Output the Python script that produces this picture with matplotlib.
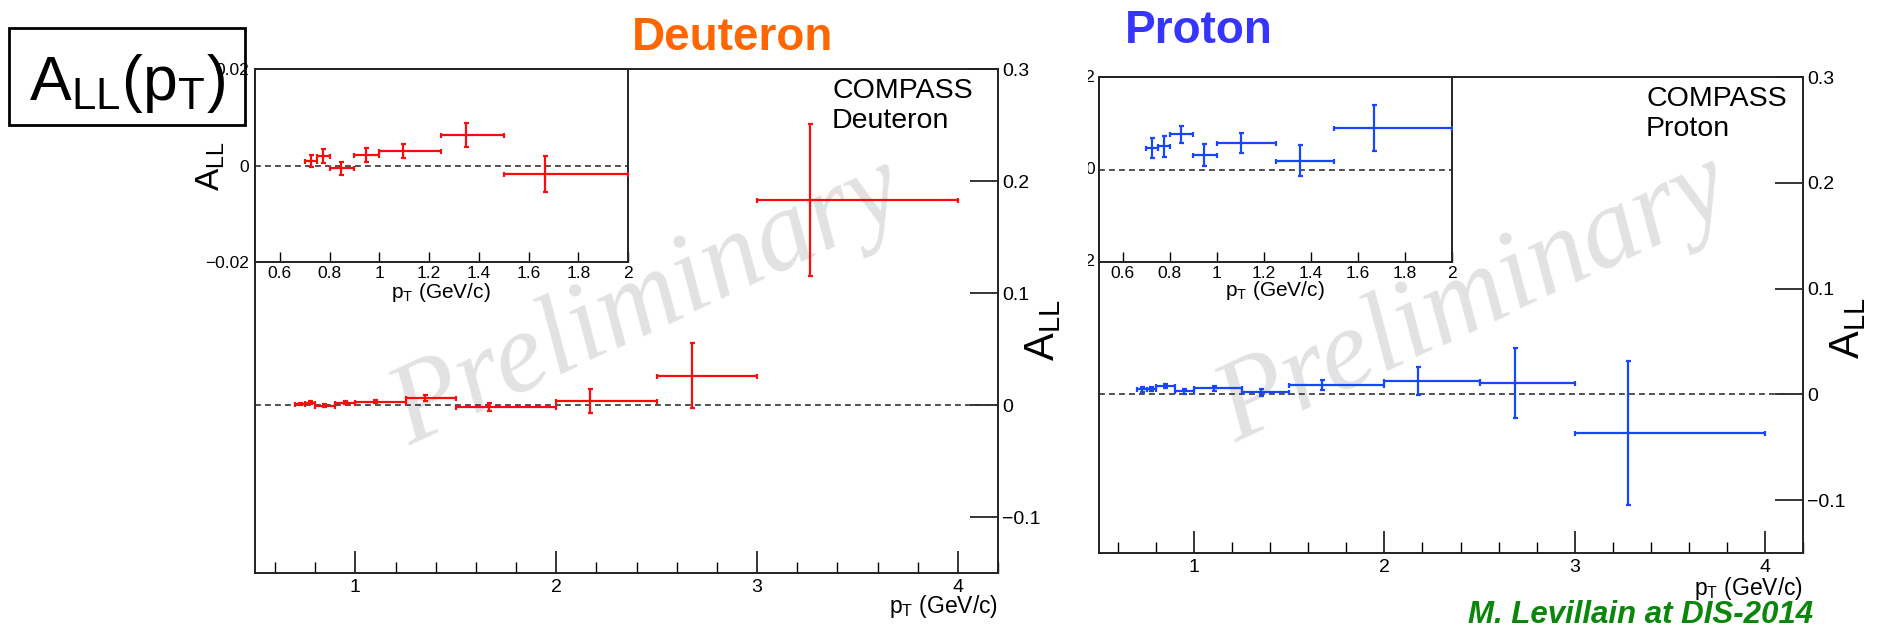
import matplotlib
matplotlib.use("Agg")
import matplotlib.pyplot as plt
from matplotlib.patches import Rectangle
from matplotlib.ticker import MultipleLocator, FixedLocator, FuncFormatter
from matplotlib.transforms import Bbox, TransformedBbox
import numpy as np

plt.rcParams['font.family'] = ['Liberation Sans', 'DejaVu Sans']
plt.rcParams['mathtext.fontset'] = 'custom'
plt.rcParams['mathtext.rm'] = 'Liberation Sans'
plt.rcParams['mathtext.it'] = 'Liberation Sans:italic'
plt.rcParams['mathtext.default'] = 'regular'

# pT bins (GeV/c)
pt_lo = [0.70, 0.75, 0.80, 0.90, 1.00, 1.25, 1.50, 2.00, 2.50, 3.00]
pt_hi = [0.75, 0.80, 0.90, 1.00, 1.25, 1.50, 2.00, 2.50, 3.00, 4.00]

# deuteron A_LL vs <pT>
d_pt = [0.724, 0.775, 0.846, 0.947, 1.097, 1.347, 1.665, 2.170, 2.675, 3.265]
d_all = [0.0009, 0.0020, -0.0006, 0.0022, 0.0030, 0.0064, -0.0018, 0.0036, 0.026, 0.183]
d_err = [0.0013, 0.0014, 0.0013, 0.0015, 0.0014, 0.0025, 0.0037, 0.011, 0.029, 0.068]

# proton A_LL vs <pT>
p_pt = [0.724, 0.775, 0.848, 0.947, 1.102, 1.353, 1.670, 2.178, 2.685, 3.280]
p_all = [0.0046, 0.0050, 0.0076, 0.0031, 0.0057, 0.0019, 0.0090, 0.0129, 0.0104, -0.0366]
p_err = [0.0022, 0.0023, 0.0019, 0.0024, 0.0021, 0.0034, 0.0050, 0.0133, 0.033, 0.068]

n_low = 7  # bins shown in the low-pT zoom

W, H = 1878, 628
fig = plt.figure(figsize=(W / 100, H / 100), dpi=100)

def fx(x):
    return x / W

def fy(y):
    return 1 - y / H

def px_axes(l, t, r, b):
    return fig.add_axes([fx(l), fy(b), (r - l) / W, (b - t) / H])

def fmt(v, pos=None):
    s = f"{v:.2f}".rstrip('0').rstrip('.')
    if s in ('-0', '0'):
        return '0'
    return s.replace('-', '\u2212')

def bars(ax, pt, a, err, col, n=None):
    pt, a, err = np.array(pt[:n]), np.array(a[:n]), np.array(err[:n])
    lo, hi = np.array(pt_lo[:n]), np.array(pt_hi[:n])
    ax.errorbar(pt, a, yerr=err, xerr=[pt - lo, hi - pt], fmt='none',
                ecolor=col, elinewidth=1.6, capsize=1.8, capthick=1.6, zorder=3)
    ax.axhline(0, color='#333333', lw=1.2, ls=(0, (3.5, 2.5)), zorder=2)

def frame(ax):
    for sp in ax.spines.values():
        sp.set_linewidth(1.4)
        sp.set_color('#222222')

def main_panel(ax, pt, a, err, col):
    bars(ax, pt, a, err, col)
    ax.set_xlim(0.5, 4.2)
    ax.set_ylim(-0.15, 0.3)
    ax.xaxis.set_major_locator(MultipleLocator(1))
    ax.xaxis.set_minor_locator(MultipleLocator(0.2))
    ax.tick_params(axis='x', which='major', direction='in', length=16, width=1.1,
                   labelsize=14, pad=4)
    ax.tick_params(axis='x', which='minor', direction='in', length=8, width=1.0)
    ax.yaxis.tick_right()
    ax.yaxis.set_major_locator(FixedLocator([-0.1, 0, 0.1, 0.2, 0.3]))
    ax.yaxis.set_major_formatter(FuncFormatter(fmt))
    ax.tick_params(axis='y', direction='in', length=20, width=1.1, labelsize=14, pad=3)
    frame(ax)

def inset_panel(ax, pt, a, err, col):
    bars(ax, pt, a, err, col, n_low)
    ax.set_xlim(0.5, 2.0)
    ax.set_ylim(-0.02, 0.02)
    ax.xaxis.set_major_locator(MultipleLocator(0.2))
    ax.xaxis.set_major_formatter(FuncFormatter(fmt))
    ax.tick_params(axis='x', direction='in', length=7, width=1.0, labelsize=12.5, pad=3)
    ax.set_yticks([-0.02, 0, 0.02])
    ax.yaxis.set_major_formatter(FuncFormatter(fmt))
    ax.tick_params(axis='y', direction='in', length=0, labelsize=12.5, pad=4)
    frame(ax)

def watermark(ax, x, y):
    ax.text(fx(x), fy(y), 'Preliminary', transform=fig.transFigure,
            family=['Liberation Serif', 'DejaVu Serif'], style='italic',
            fontsize=83, color='#e2e2e2', rotation=25, rotation_mode='anchor',
            ha='center', va='center', zorder=1)

red = '#ff0a0a'
blue = '#1846ff'

# deuteron
ax_d = px_axes(255, 69, 998, 573)
main_panel(ax_d, d_pt, d_all, d_err, red)
watermark(ax_d, 648, 303)
ax_di = px_axes(255, 69, 628, 262)
inset_panel(ax_di, d_pt, d_all, d_err, red)

# proton
ax_p = px_axes(1099, 77, 1803, 553)
main_panel(ax_p, p_pt, p_all, p_err, blue)
watermark(ax_p, 1474, 300)
ax_pi = px_axes(1099, 77, 1452, 262)
inset_panel(ax_pi, p_pt, p_all, p_err, blue)

# proton zoom: y labels are cut at the left edge of the pasted plot
ax_pi.set_yticklabels([])
clip = TransformedBbox(Bbox.from_extents(fx(1088), 0, 1, 1), fig.transFigure)
for v in [-0.02, 0, 0.02]:
    t = ax_pi.text(-0.011, v, fmt(v), transform=ax_pi.get_yaxis_transform(),
                   ha='right', va='center', fontsize=12.5, clip_on=True)
    t.set_clip_box(clip)

# axis titles
lab_x = '$p_{T}$ (GeV/c)'
fig.text(fx(998), fy(607), lab_x, ha='right', va='center', fontsize=16.5)
fig.text(fx(1803), fy(589), lab_x, ha='right', va='center', fontsize=16.5)
fig.text(fx(441), fy(292), lab_x, ha='center', va='center', fontsize=15)
fig.text(fx(1275), fy(290), lab_x, ha='center', va='center', fontsize=15)
fig.text(fx(1043), fy(330), '$A_{LL}$', rotation=90, ha='center', va='center', fontsize=30)
fig.text(fx(1848), fy(328), '$A_{LL}$', rotation=90, ha='center', va='center', fontsize=30)
fig.text(fx(211), fy(166), '$A_{LL}$', rotation=90, ha='center', va='center', fontsize=24)

# experiment tags
fig.text(fx(832), fy(78), 'COMPASS\nDeuteron', ha='left', va='top', fontsize=20.5,
         linespacing=1.2)
fig.text(fx(1646), fy(86), 'COMPASS\nProton', ha='left', va='top', fontsize=20.5,
         linespacing=1.2)

# slide titles
fig.text(fx(632), fy(50), 'Deuteron', ha='left', va='baseline', fontsize=33,
         fontweight='bold', color='#ff6600')
fig.text(fx(1125), fy(43), 'Proton', ha='left', va='baseline', fontsize=33,
         fontweight='bold', color='#3535ff')

# boxed label
fig.add_artist(Rectangle((fx(9), fy(125)), 236 / W, 97 / H, transform=fig.transFigure,
                         fill=False, lw=2, ec='black'))
fig.text(fx(29), fy(100), '$A_{LL}(p_{T})$', ha='left', va='baseline', fontsize=45)

fig.text(fx(1813), fy(623), 'M. Levillain at DIS-2014', ha='right', va='baseline',
         fontsize=22.5, fontweight='bold', fontstyle='italic', color='#0a860a')

fig.savefig('out.png', dpi=100)
